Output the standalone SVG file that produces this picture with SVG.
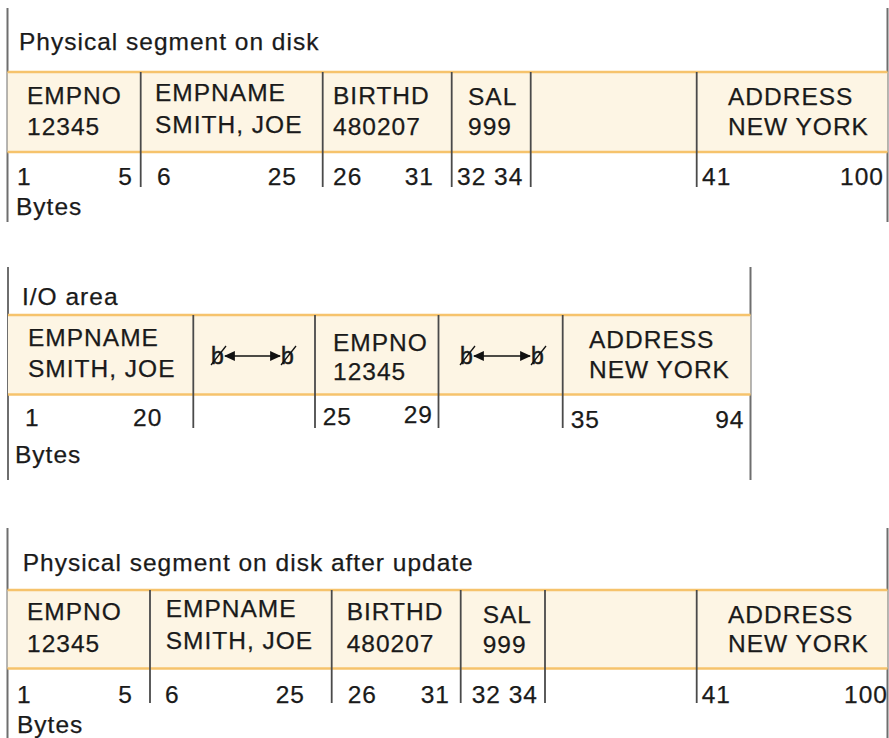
<svg xmlns="http://www.w3.org/2000/svg" width="889" height="738" viewBox="0 0 889 738">
<style>
  text { font-family: "Liberation Sans", Arial, Helvetica, sans-serif; font-size: 24.5px; fill: #1a1a1a; stroke: #1a1a1a; stroke-width: 0.25px; letter-spacing: 1px; }
  .end { text-anchor: end; }
  .band { fill: #fdf5e4; stroke: none; }
  .edge { stroke: #f6c36c; stroke-width: 2.5; fill: none; }
  .sep { stroke: #4a4a4a; stroke-width: 1.8; fill: none; }
  .frame { stroke: #6e6e6e; stroke-width: 2; fill: none; }
  .arr { stroke: #111; stroke-width: 1.6; fill: none; marker-start: url(#ah); marker-end: url(#ah); }
  .slash { stroke: #111; stroke-width: 1.3; }
  .blank { font-size: 23px; letter-spacing: 0; stroke-width: 0.5px; }
</style>
<defs>
  <marker id="ah" viewBox="0 0 10 10" refX="9" refY="5" markerWidth="11" markerHeight="10" markerUnits="userSpaceOnUse" orient="auto-start-reverse" preserveAspectRatio="none">
    <path d="M0,0 L10,5 L0,10 Z" fill="#111"/>
  </marker>
</defs>

<!-- Section 1 -->
<g id="section1">
  <line class="frame" x1="7.5" y1="8" x2="7.5" y2="222"/>
  <line class="frame" x1="887.5" y1="8" x2="887.5" y2="222"/>
  <text x="19" y="50">Physical segment on disk</text>
  <rect class="band" x="7.5" y="72" width="880" height="80"/>
  <line class="edge" x1="7.5" y1="72" x2="887.5" y2="72"/>
  <line class="edge" x1="7.5" y1="152" x2="887.5" y2="152"/>
  <g id="s1-empno"><line class="sep" x1="140.7" y1="72" x2="140.7" y2="187"/><text x="27" y="104">EMPNO</text><text x="27" y="135">12345</text></g>
  <g id="s1-empname"><line class="sep" x1="322.7" y1="72" x2="322.7" y2="187"/><text x="155" y="101">EMPNAME</text><text x="155" y="133">SMITH, JOE</text></g>
  <g id="s1-birthd"><line class="sep" x1="451.7" y1="72" x2="451.7" y2="187"/><text x="333" y="104">BIRTHD</text><text x="333" y="135">480207</text></g>
  <g id="s1-sal"><line class="sep" x1="530.7" y1="72" x2="530.7" y2="187"/><text x="468" y="105">SAL</text><text x="468" y="135">999</text></g>
  <g id="s1-gap"><line class="sep" x1="696.7" y1="72" x2="696.7" y2="187"/></g>
  <g id="s1-address"><text x="728" y="105">ADDRESS</text><text x="728" y="135">NEW YORK</text></g>
  <g id="s1-bytes">
    <text x="17" y="185">1</text><text class="end" x="133" y="185">5</text>
    <text x="157" y="185">6</text><text class="end" x="297" y="185">25</text>
    <text x="333" y="185">26</text><text class="end" x="434" y="185">31</text>
    <text x="457" y="185">32 34</text>
    <text x="702" y="185">41</text><text class="end" x="884" y="185">100</text>
    <text x="16" y="215">Bytes</text>
  </g>
</g>

<!-- Section 2 -->
<g id="section2">
  <line class="frame" x1="8" y1="267" x2="8" y2="480"/>
  <line class="frame" x1="750.5" y1="267" x2="750.5" y2="480"/>
  <text x="22" y="305">I/O area</text>
  <rect class="band" x="8" y="315" width="742.5" height="79.5"/>
  <line class="edge" x1="8" y1="315" x2="750.5" y2="315"/>
  <line class="edge" x1="8" y1="394.5" x2="750.5" y2="394.5"/>
  <g id="s2-empname"><line class="sep" x1="193.3" y1="315" x2="193.3" y2="428"/><text x="28" y="346">EMPNAME</text><text x="28" y="377">SMITH, JOE</text></g>
  <g id="s2-blank1">
    <line class="sep" x1="315" y1="315" x2="315" y2="428"/>
    <text class="blank" x="211" y="364">b</text><line class="slash" x1="211" y1="365" x2="226" y2="346"/>
    <line class="arr" x1="225" y1="356" x2="280" y2="356"/>
    <text class="blank" x="281" y="364">b</text><line class="slash" x1="281" y1="365" x2="296" y2="346"/>
  </g>
  <g id="s2-empno"><line class="sep" x1="438.5" y1="315" x2="438.5" y2="428"/><text x="333" y="351">EMPNO</text><text x="333" y="379.5">12345</text></g>
  <g id="s2-blank2">
    <line class="sep" x1="562.7" y1="315" x2="562.7" y2="428"/>
    <text class="blank" x="460" y="364">b</text><line class="slash" x1="460" y1="365" x2="475" y2="346"/>
    <line class="arr" x1="474" y1="356" x2="530" y2="356"/>
    <text class="blank" x="531" y="364">b</text><line class="slash" x1="531" y1="365" x2="546" y2="346"/>
  </g>
  <g id="s2-address"><text x="589" y="348">ADDRESS</text><text x="589" y="378">NEW YORK</text></g>
  <g id="s2-bytes">
    <text x="25" y="426">1</text><text x="133" y="426">20</text>
    <text x="322.7" y="425">25</text><text class="end" x="433" y="422.7">29</text>
    <text x="570.7" y="428">35</text><text class="end" x="744.5" y="428">94</text>
    <text x="15" y="463">Bytes</text>
  </g>
</g>

<!-- Section 3 -->
<g id="section3">
  <line class="frame" x1="7.5" y1="528" x2="7.5" y2="738"/>
  <line class="frame" x1="887.5" y1="528" x2="887.5" y2="738"/>
  <text x="22.7" y="571">Physical segment on disk after update</text>
  <rect class="band" x="7.5" y="590" width="880" height="78.5"/>
  <line class="edge" x1="7.5" y1="590" x2="887.5" y2="590"/>
  <line class="edge" x1="7.5" y1="668.5" x2="887.5" y2="668.5"/>
  <g id="s3-empno"><line class="sep" x1="150" y1="590" x2="150" y2="703"/><text x="27" y="620">EMPNO</text><text x="27" y="651.7">12345</text></g>
  <g id="s3-empname"><line class="sep" x1="331.7" y1="590" x2="331.7" y2="703"/><text x="165.7" y="617.3">EMPNAME</text><text x="165.7" y="649.3">SMITH, JOE</text></g>
  <g id="s3-birthd"><line class="sep" x1="460.7" y1="590" x2="460.7" y2="703"/><text x="346.7" y="620">BIRTHD</text><text x="346.7" y="651.7">480207</text></g>
  <g id="s3-sal"><line class="sep" x1="545" y1="590" x2="545" y2="703"/><text x="482.7" y="623">SAL</text><text x="482.7" y="652.7">999</text></g>
  <g id="s3-gap"><line class="sep" x1="696.7" y1="590" x2="696.7" y2="703"/></g>
  <g id="s3-address"><text x="728" y="623">ADDRESS</text><text x="728" y="652">NEW YORK</text></g>
  <g id="s3-bytes">
    <text x="17" y="703">1</text><text class="end" x="133" y="703">5</text>
    <text x="165" y="703">6</text><text class="end" x="305" y="703">25</text>
    <text x="347.7" y="703">26</text><text class="end" x="450" y="703">31</text>
    <text x="471.7" y="703">32 34</text>
    <text x="701.7" y="703">41</text><text class="end" x="888" y="703">100</text>
    <text x="17" y="733">Bytes</text>
  </g>
</g>
</svg>
